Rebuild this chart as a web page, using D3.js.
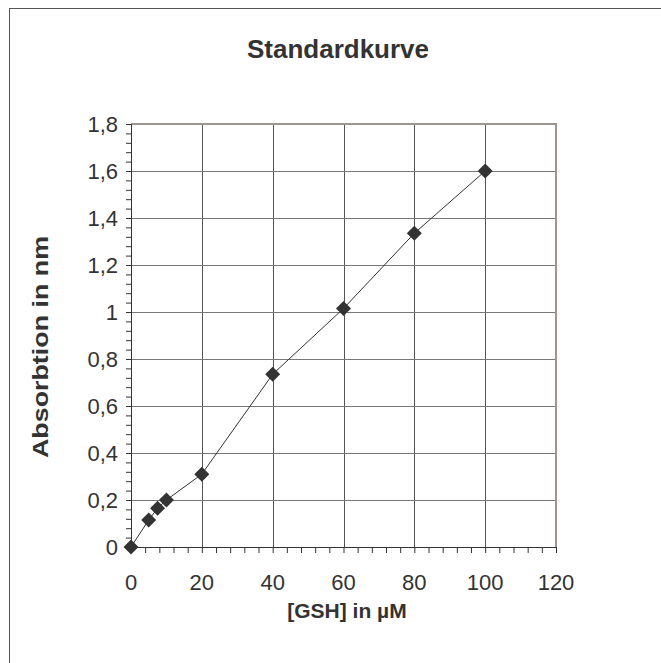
<!DOCTYPE html>
<html>
<head>
<meta charset="utf-8">
<script src="https://cdn.jsdelivr.net/npm/d3@7"></script>
<style>
  body { margin: 0; background: #fff; }
  text { font-family: "Liberation Sans", Arial, sans-serif; fill: #333; }
</style>
</head>
<body>
<div id="chart"></div>
<script>
// data
const gsh = [0, 5, 7.5, 10, 20, 40, 60, 80, 100];
const absorption = [0, 0.115, 0.165, 0.2, 0.31, 0.735, 1.015, 1.335, 1.6];
const xTicks = [0, 20, 40, 60, 80, 100, 120];
const yTicks = [0, 0.2, 0.4, 0.6, 0.8, 1, 1.2, 1.4, 1.6, 1.8];

const width = 661, height = 663;
const plot = { left: 131, right: 556, top: 124, bottom: 547 };

const svg = d3.select("#chart").append("svg")
  .attr("width", width)
  .attr("height", height);

// outer frame (cut off at right and bottom)
svg.append("rect")
  .attr("x", 9.5).attr("y", 8.5)
  .attr("width", 800).attr("height", 800)
  .attr("fill", "none").attr("stroke", "#555").attr("stroke-width", 1);

const x = d3.scaleLinear().domain([0, 120]).range([plot.left, plot.right]);
const y = d3.scaleLinear().domain([0, 1.8]).range([plot.bottom, plot.top]);

const fmt = d => String(d).replace(".", ",");

// grid
svg.append("g").selectAll("line")
  .data(xTicks.slice(1))
  .join("line")
  .attr("x1", d => Math.round(x(d)) + 0.5).attr("x2", d => Math.round(x(d)) + 0.5)
  .attr("y1", plot.top).attr("y2", plot.bottom)
  .attr("stroke", "#555").attr("stroke-width", 1);

svg.append("g").selectAll("line")
  .data(yTicks.slice(1))
  .join("line")
  .attr("x1", plot.left).attr("x2", plot.right)
  .attr("y1", d => Math.round(y(d)) + 0.5).attr("y2", d => Math.round(y(d)) + 0.5)
  .attr("stroke", "#777").attr("stroke-width", 1);

// top/right plot border
svg.append("path")
  .attr("d", `M${plot.left},${plot.top}H${plot.right}V${plot.bottom}`)
  .attr("fill", "none").attr("stroke", "#9e9490").attr("stroke-width", 2);

// x axis
const xAxis = svg.append("g").attr("transform", `translate(0,${plot.bottom})`);
xAxis.call(d3.axisBottom(x).tickValues(d3.range(0, 121, 4)).tickSize(6).tickFormat(""))
  .call(g => g.select(".domain").attr("stroke", "#333"))
  .call(g => g.selectAll(".tick line").attr("stroke", "#333"));
xAxis.selectAll(".xlabel")
  .data(xTicks)
  .join("text")
  .attr("class", "xlabel")
  .attr("x", d => x(d)).attr("y", 43)
  .attr("text-anchor", "middle")
  .attr("font-size", 22)
  .text(fmt);

// y axis
const yAxis = svg.append("g").attr("transform", `translate(${plot.left},0)`);
yAxis.call(d3.axisLeft(y).tickValues(d3.range(0, 46).map(i => i * 0.04)).tickSize(5).tickFormat(""))
  .call(g => g.select(".domain").attr("stroke", "#333"))
  .call(g => g.selectAll(".tick line").attr("stroke", "#333"));
yAxis.selectAll(".ylabel")
  .data(yTicks)
  .join("text")
  .attr("class", "ylabel")
  .attr("x", -13).attr("y", d => y(d))
  .attr("dy", "0.36em")
  .attr("text-anchor", "end")
  .attr("font-size", 22)
  .text(fmt);

// line + markers
const line = d3.line().x((d, i) => x(gsh[i])).y(d => y(d));
svg.append("path")
  .attr("d", line(absorption))
  .attr("fill", "none").attr("stroke", "#333").attr("stroke-width", 1);

svg.append("g").selectAll("path")
  .data(absorption)
  .join("path")
  .attr("transform", (d, i) => `translate(${x(gsh[i])},${y(d)})`)
  .attr("d", "M0,-7.5L7.5,0L0,7.5L-7.5,0Z")
  .attr("fill", "#333");

// titles
svg.append("text")
  .attr("x", 338).attr("y", 58)
  .attr("text-anchor", "middle")
  .attr("font-size", 26).attr("font-weight", "bold")
  .text("Standardkurve");

svg.append("text")
  .attr("x", 347).attr("y", 618)
  .attr("text-anchor", "middle")
  .attr("font-size", 21).attr("font-weight", "bold")
  .text("[GSH] in µM");

svg.append("text")
  .attr("transform", `translate(48,347) rotate(-90)`)
  .attr("text-anchor", "middle")
  .attr("font-size", 22).attr("font-weight", "bold")
  .attr("textLength", 222).attr("lengthAdjust", "spacingAndGlyphs")
  .text("Absorbtion in nm");
</script>
</body>
</html>
